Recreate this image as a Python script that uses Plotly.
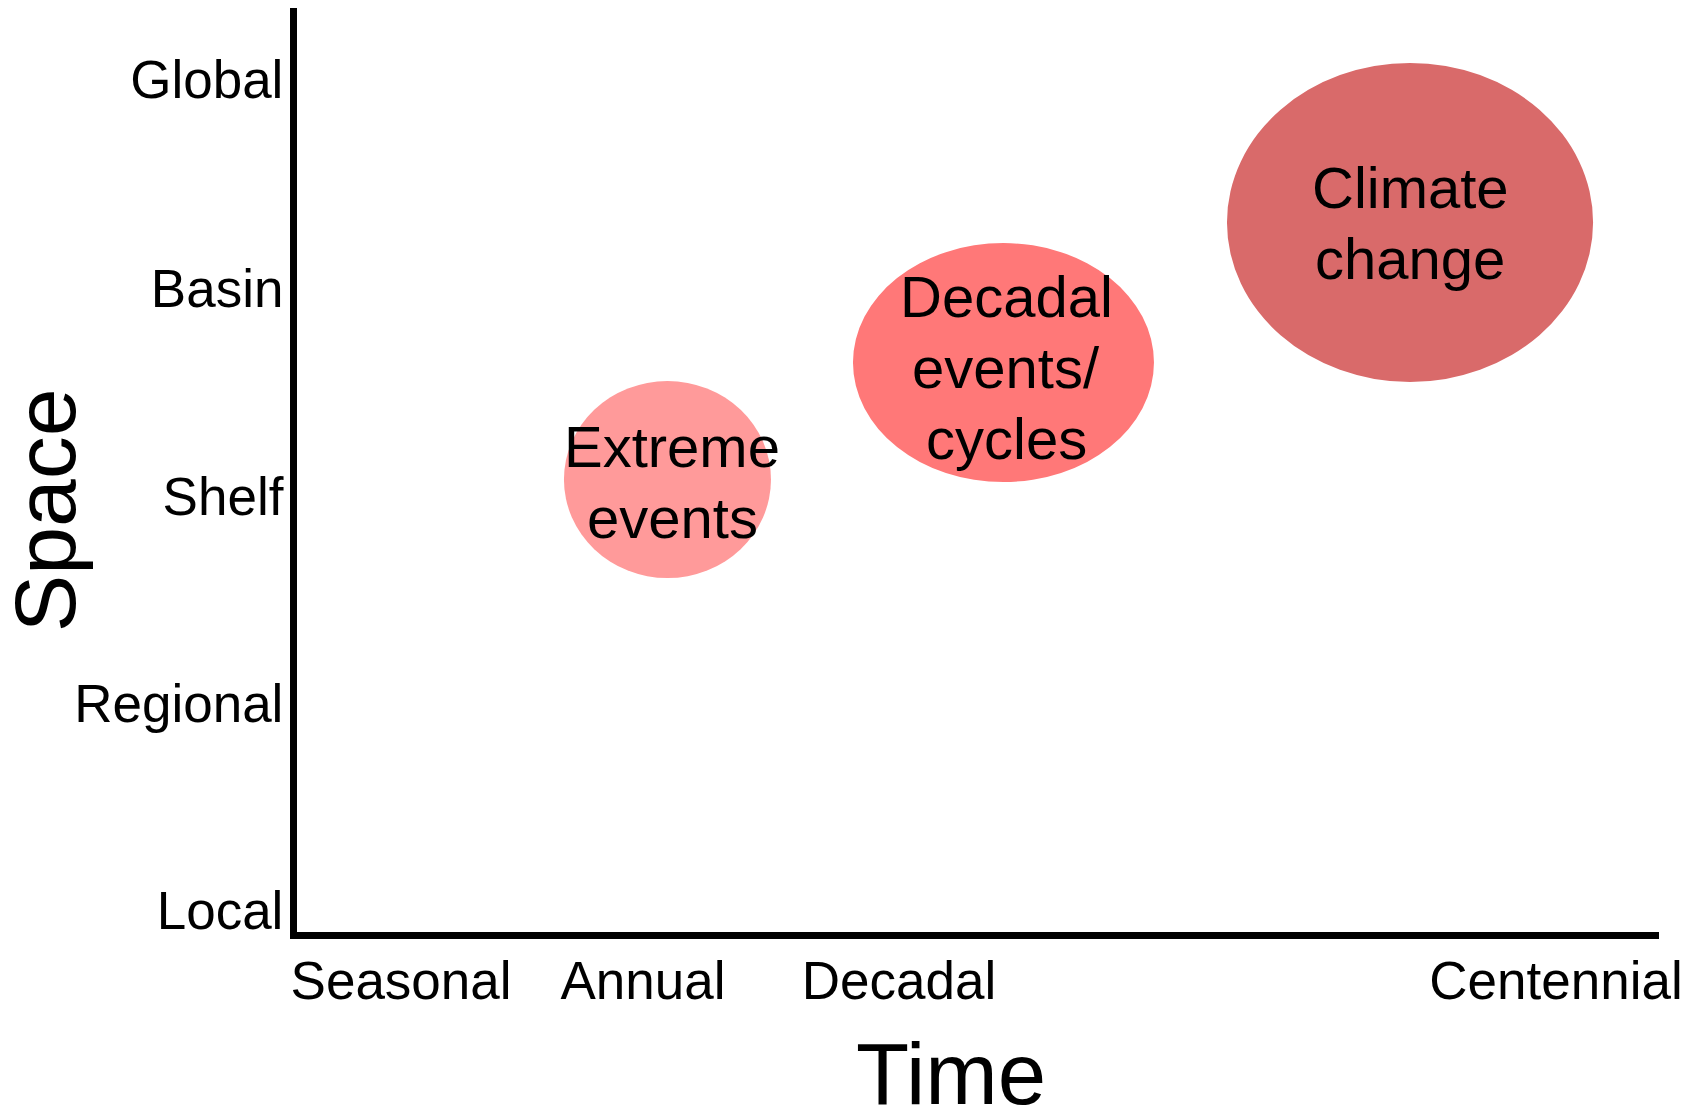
import plotly.graph_objects as go

FONT = "Liberation Sans, Arial, Helvetica, sans-serif"

# Axis categories (positions on the schematic scales)
time_labels = ["Seasonal", "Annual", "Decadal", "Centennial"]
time_pos = [7.64, 25.40, 44.20, 92.44]
space_labels = ["Local", "Regional", "Shelf", "Basin", "Global"]
space_pos = [2.38, 24.78, 47.19, 69.70, 92.32]

# Phenomena: centre on time / space scales, and extent (half-width) on each
phen_lines = [["Extreme", "events"], ["Decadal", "events/", "cycles"], ["Climate", "change"]]
phen_time = [27.20, 51.87, 81.72]
phen_space = [48.97, 61.63, 76.79]
phen_time_ext = [7.60, 11.05, 13.44]
phen_space_ext = [10.66, 12.93, 17.26]
phen_colors = ["#FF9A9A", "#FF7878", "#D96A6A"]

# label nudges inside bubbles (px, style only)
label_dx = [5, 3, 0]
label_dy = [-2, -5, -1]
LINE_H = 71  # px between text lines inside bubbles

fig = go.Figure()
# invisible trace to activate axes
fig.add_trace(go.Scatter(x=phen_time, y=phen_space, mode="markers",
                         marker=dict(opacity=0), hoverinfo="skip", showlegend=False))

for cx, cy, rx, ry, col in zip(phen_time, phen_space, phen_time_ext, phen_space_ext, phen_colors):
    fig.add_shape(type="circle", xref="x", yref="y",
                  x0=cx - rx, x1=cx + rx, y0=cy - ry, y1=cy + ry,
                  fillcolor=col, line=dict(width=0), layer="below")

for lines, cx, cy, dx, dy in zip(phen_lines, phen_time, phen_space, label_dx, label_dy):
    n = len(lines)
    for i, ln in enumerate(lines):
        fig.add_annotation(x=cx, y=cy, xref="x", yref="y", text=ln, showarrow=False,
                           xshift=dx, yshift=((n - 1) / 2 - i) * LINE_H + dy,
                           font=dict(family=FONT, size=58, color="black"),
                           xanchor="center", yanchor="middle", align="center")

fig.add_annotation(x=0.480, y=-0.1526, xref="paper", yref="paper", text="Time",
                   showarrow=False, font=dict(family=FONT, size=87, color="black"),
                   xanchor="center", yanchor="middle")
fig.add_annotation(x=-0.185, y=0.4565, xref="paper", yref="paper", text="Space",
                   showarrow=False, textangle=-90,
                   font=dict(family=FONT, size=86, color="black"),
                   xanchor="center", yanchor="middle")

fig.update_xaxes(range=[0, 100], showgrid=False, zeroline=False, showline=True,
                 linewidth=7, linecolor="black", tickmode="array",
                 tickvals=time_pos, ticktext=time_labels, ticks="",
                 ticklabelstandoff=-4,
                 tickfont=dict(family=FONT, size=53, color="black"))
fig.update_yaxes(range=[0, 100], showgrid=False, zeroline=False, showline=True,
                 linewidth=7, linecolor="black", tickmode="array",
                 tickvals=space_pos, ticktext=space_labels, ticks="",
                 ticklabelstandoff=-4,
                 tickfont=dict(family=FONT, size=53, color="black"))

fig.update_layout(width=1694, height=1106, plot_bgcolor="white", paper_bgcolor="white",
                  margin=dict(l=289, r=43, t=0, b=182), showlegend=False)

fig.write_html("out.html")
